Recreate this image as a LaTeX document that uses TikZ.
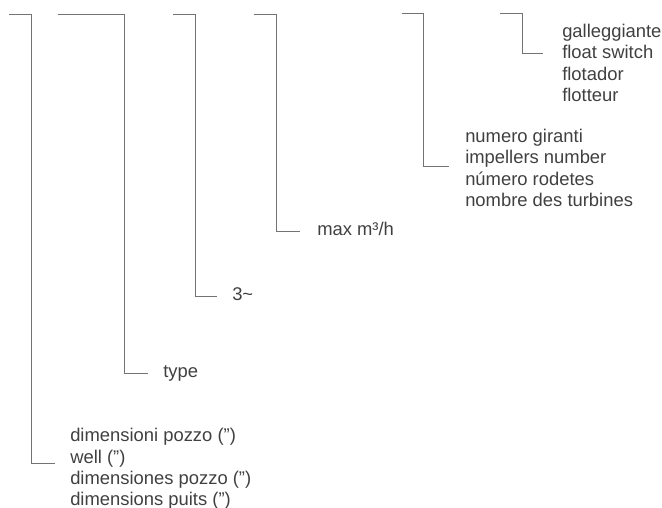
\documentclass[tikz,border=0pt]{standalone}
\usepackage{fontspec}
\setmainfont{Liberation Sans}
\usetikzlibrary{calc}

\begin{document}
\begin{tikzpicture}[x=0.75pt,y=-0.75pt,
  every node/.style={font=\fontsize{13.8}{16.1}\selectfont},
  codelabel/.style={anchor=west,align=left,inner sep=0pt,text=black!75},
  onelabel/.style={codelabel,anchor=mid west},
  bracket/.style={draw=black!55,line width=0.6pt},
]
\useasboundingbox (0,0) rectangle (662,508);

% ---------- Labels ----------
\node[codelabel] (dim)   at (70,469)  {dimensioni pozzo (”)\\well (”)\\dimensiones pozzo (”)\\dimensions puits (”)};
\node[onelabel]  (type)  at (163,374) {type};
\node[onelabel]  (phase) at (232,297) {3\textasciitilde};
\node[onelabel]  (flow)  at (317,232) {max m³/h};
\node[codelabel] (imp)   at (465,168) {numero giranti\\impellers number\\número rodetes\\nombre des turbines};
\node[codelabel] (float) at (562,63)  {galleggiante\\float switch\\flotador\\flotteur};

% ---------- Bracket tops ----------
\coordinate (dim top)   at (9,14);
\coordinate (type top)  at (58,14);
\coordinate (phase top) at (173,14);
\coordinate (flow top)  at (254,14);
\coordinate (imp top)   at (402,13);
\coordinate (float top) at (500,13);

% ---------- Brackets ----------
\draw[bracket] (dim top)   -- ++(22,0) |- ($(dim.west)+(-15,-6)$);
\draw[bracket] (type top)  -- ++(66,0) |- ($(type.mid west)+(-15,-1)$);
\draw[bracket] (phase top) -- ++(22,0) |- ($(phase.mid west)+(-15,-1)$);
\draw[bracket] (flow top)  -- ++(22,0) |- ($(flow.mid west)+(-17,-1)$);
\draw[bracket] (imp top)   -- ++(21,0) |- ($(imp.west)+(-16,-2)$);
\draw[bracket] (float top) -- ++(22,0) |- ($(float.west)+(-19,-10)$);

\end{tikzpicture}
\end{document}
